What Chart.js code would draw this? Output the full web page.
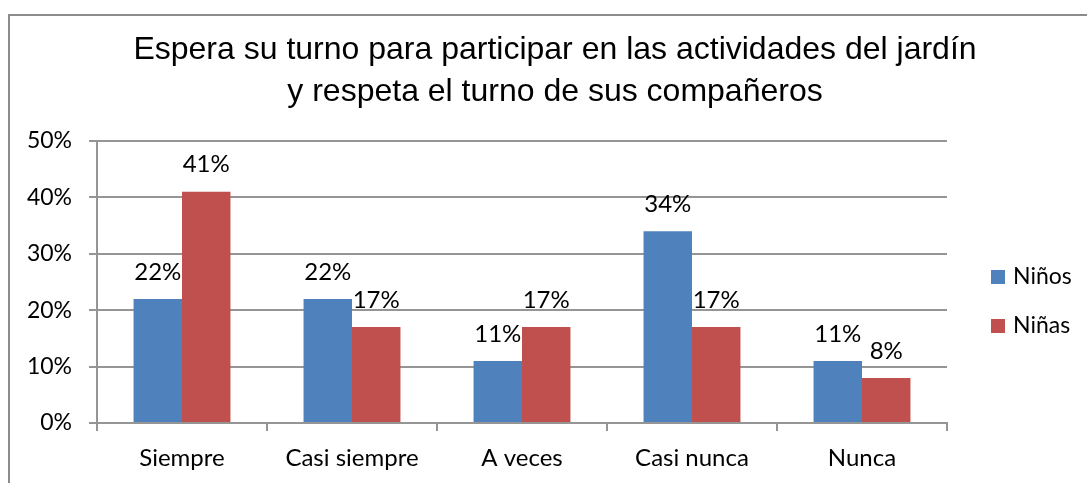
<!DOCTYPE html>
<html>
<head>
<meta charset="utf-8">
<script src="https://cdn.jsdelivr.net/npm/chart.js@4.4.1/dist/chart.umd.min.js"></script>
<style>
  html, body { margin: 0; padding: 0; background: #fff; }
  .frame { position: absolute; left: 8px; top: 14px; width: 1200px; height: 600px; border: 2px solid #8c8c8c; }
  .chart-container { position: absolute; left: 0; top: 0; width: 1087px; height: 483px; }
</style>
</head>
<body>
<div class="frame"></div>
<div class="chart-container"><canvas id="turno"></canvas></div>
<script>
const categories = ['Siempre', 'Casi siempre', 'A veces', 'Casi nunca', 'Nunca'];
const ninos = [22, 22, 11, 34, 11];
const ninas = [41, 17, 17, 17, 8];
const yTicks = [0, 10, 20, 30, 40, 50];
const titleLines = ['Espera su turno para participar en las actividades del jardín', 'y respeta el turno de sus compañeros'];

const labelFont = '24px Lato';

// value labels over the bars
const barLabels = {
    id: 'barLabels',
    afterDatasetsDraw(chart) {
        const ctx = chart.ctx;
        ctx.save();
        ctx.font = labelFont;
        ctx.fillStyle = '#000';
        ctx.textAlign = 'center';
        ctx.textBaseline = 'middle';
        chart.data.datasets.forEach((ds, i) => {
            chart.getDatasetMeta(i).data.forEach((bar, j) => {
                ctx.fillText(ds.data[j] + '%', bar.x, bar.y - 27);
            });
        });
        ctx.restore();
    }
};

// title and legend, placed like the excel chart
const decor = {
    id: 'decor',
    afterDraw(chart) {
        const ctx = chart.ctx;
        ctx.save();
        ctx.fillStyle = '#000';
        ctx.textAlign = 'center';
        ctx.textBaseline = 'middle';
        ctx.font = '32px "Liberation Sans"';
        titleLines.forEach((line, i) => ctx.fillText(line, 555, 50 + i * 42));

        ctx.font = '23px Lato';
        ctx.textAlign = 'left';
        chart.data.datasets.forEach((ds, i) => {
            const y = 277 + i * 49;
            ctx.fillStyle = ds.backgroundColor;
            ctx.fillRect(991, y - 7, 14, 14);
            ctx.fillStyle = '#000';
            ctx.fillText(ds.label, 1013, y);
        });
        ctx.restore();
    }
};

new Chart(document.getElementById('turno').getContext('2d'), {
    type: 'bar',
    data: {
        labels: categories,
        datasets: [
            { label: 'Niños', data: ninos, backgroundColor: '#4F81BD' },
            { label: 'Niñas', data: ninas, backgroundColor: '#C0504D' }
        ]
    },
    options: {
        responsive: true,
        maintainAspectRatio: false,
        animation: false,
        categoryPercentage: 0.57,
        barPercentage: 1,
        layout: { padding: { top: 141, right: 140, left: 0, bottom: 0 } },
        plugins: {
            legend: false,
            title: false,
            tooltip: { enabled: false }
        },
        scales: {
            x: {
                grid: { display: true, drawOnChartArea: false, drawTicks: true, tickLength: 8, color: '#959595', lineWidth: 2 },
                border: { color: '#959595', width: 2 },
                ticks: { color: '#000', font: { family: 'Lato', size: 24 }, padding: 13, maxRotation: 0 },
                afterFit: scale => { scale.height = 60; }
            },
            y: {
                min: 0,
                max: 50,
                afterBuildTicks: scale => { scale.ticks = yTicks.map(v => ({ value: v })); },
                grid: { color: '#959595', lineWidth: 2, tickLength: 8 },
                border: { color: '#959595', width: 2 },
                ticks: { color: '#000', font: { family: 'Lato', size: 23 }, padding: 17, callback: v => v + '%' },
                afterFit: scale => { scale.width = 97; }
            }
        }
    },
    plugins: [barLabels, decor]
});
</script>
</body>
</html>
